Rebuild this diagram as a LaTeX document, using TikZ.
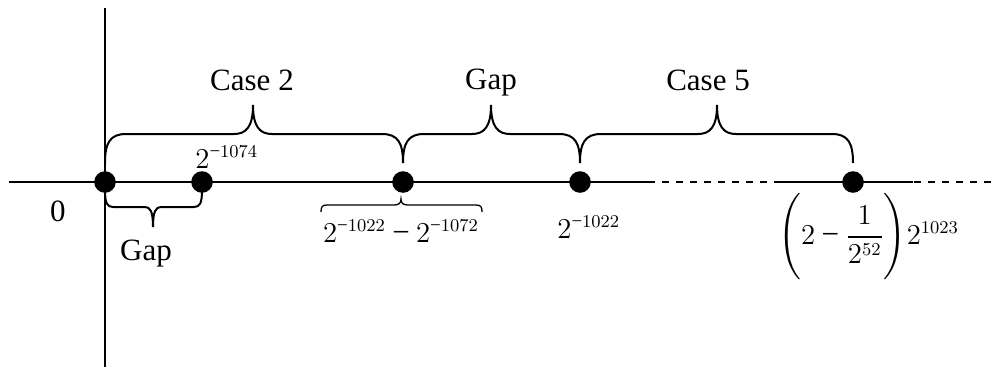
\documentclass[tikz,border=0pt]{standalone}
\usepackage{amsmath}
\usepackage{fontspec}
\setmainfont{Liberation Serif}
\DeclareMathSizes{15.5}{15.5}{9.5}{7.5}
\newcommand\TopBrace[3]{%
  \draw[brc] (#1,163) .. controls (#1,143) and ({#1+5},134) .. ({#1+21},134)
    -- ({#3-19},134) .. controls ({#3-7},134) and (#3,127) .. (#3,105)
    .. controls (#3,127) and ({#3+7},134) .. ({#3+19},134)
    -- ({#2-21},134) .. controls ({#2-5},134) and (#2,143) .. (#2,163);}
\newcommand\mmin{\text{−}}
\begin{document}
\begin{tikzpicture}[x=0.5pt,y=-0.5pt,
  ax/.style={line width=1pt},
  brc/.style={line width=1pt},
  thinbrc/.style={line width=0.65pt},
  dot/.style={circle,fill=black,inner sep=0pt,minimum size=10.8pt},
  lbl/.style={inner sep=0pt,font=\fontsize{15.5}{18}\selectfont},
]
\useasboundingbox (0,0) rectangle (1000,375);
% axes
\coordinate (vt) at (105,8);
\coordinate (vb) at (105,367);
\coordinate (hl) at (9,182);
\coordinate (hs) at (648,182);
\coordinate (he) at (997,182);
\coordinate (ss) at (775,182);
\coordinate (se) at (913,182);
\draw[ax] (vt) -- (vb);
\draw[ax] (hl) -- (hs);
\draw[ax,dash pattern=on 3.5pt off 3.5pt] (hs) -- (he);
\draw[ax] (ss) -- (se);
% top braces
\TopBrace{105}{403}{253}
\TopBrace{403}{580}{491}
\TopBrace{580}{853}{717}
% bottom gap brace
\draw[brc] (105,190) .. controls (105,203) and (107,207) .. (113,207) -- (145,207)
  .. controls (150,207) and (153,211) .. (153,227)
  .. controls (153,211) and (156,207) .. (161,207) -- (194,207)
  .. controls (200,207) and (202,203) .. (202,190);
% dots
\node[dot] (d0) at (105,182) {};
\node[dot] (d1) at (202,182) {};
\node[dot] (d2) at (403,182) {};
\node[dot] (d3) at (580,182) {};
\node[dot] (d4) at (853,182) {};
% labels
\node[lbl,anchor=base] (c2) at (252,90) {Case 2};
\node[lbl,anchor=base] (gt) at (491,89) {Gap};
\node[lbl,anchor=base] (c5) at (708,90) {Case 5};
\node[lbl,anchor=base west] (l1) at (195,168) {$2^{\mmin 1074}$};
\node[lbl,anchor=base] (zero) at (58,221) {0};
\node[lbl,anchor=base] (gb) at (146,260) {Gap};
\node[lbl,anchor=base] (l2) at (401,242) {$2^{\mmin 1022}\mathbin{\mmin}2^{\mmin 1072}$};
\draw[thinbrc] (321,212) .. controls (321,207) and (322,205) .. (327,205) -- (394,205)
  .. controls (399,205) and (401,203) .. (401,199)
  .. controls (401,203) and (403,205) .. (408,205) -- (476,205)
  .. controls (481,205) and (482,207) .. (482,212);
\node[lbl,anchor=base west] (l3) at (557,238) {$2^{\mmin 1022}$};
\node[lbl,anchor=west] (l4) at (778,237) {$\left(\rule[-16pt]{0pt}{40pt}2\mathbin{\mmin}\dfrac{1}{2^{52}}\right)\!2^{1023}$};
\end{tikzpicture}
\end{document}
